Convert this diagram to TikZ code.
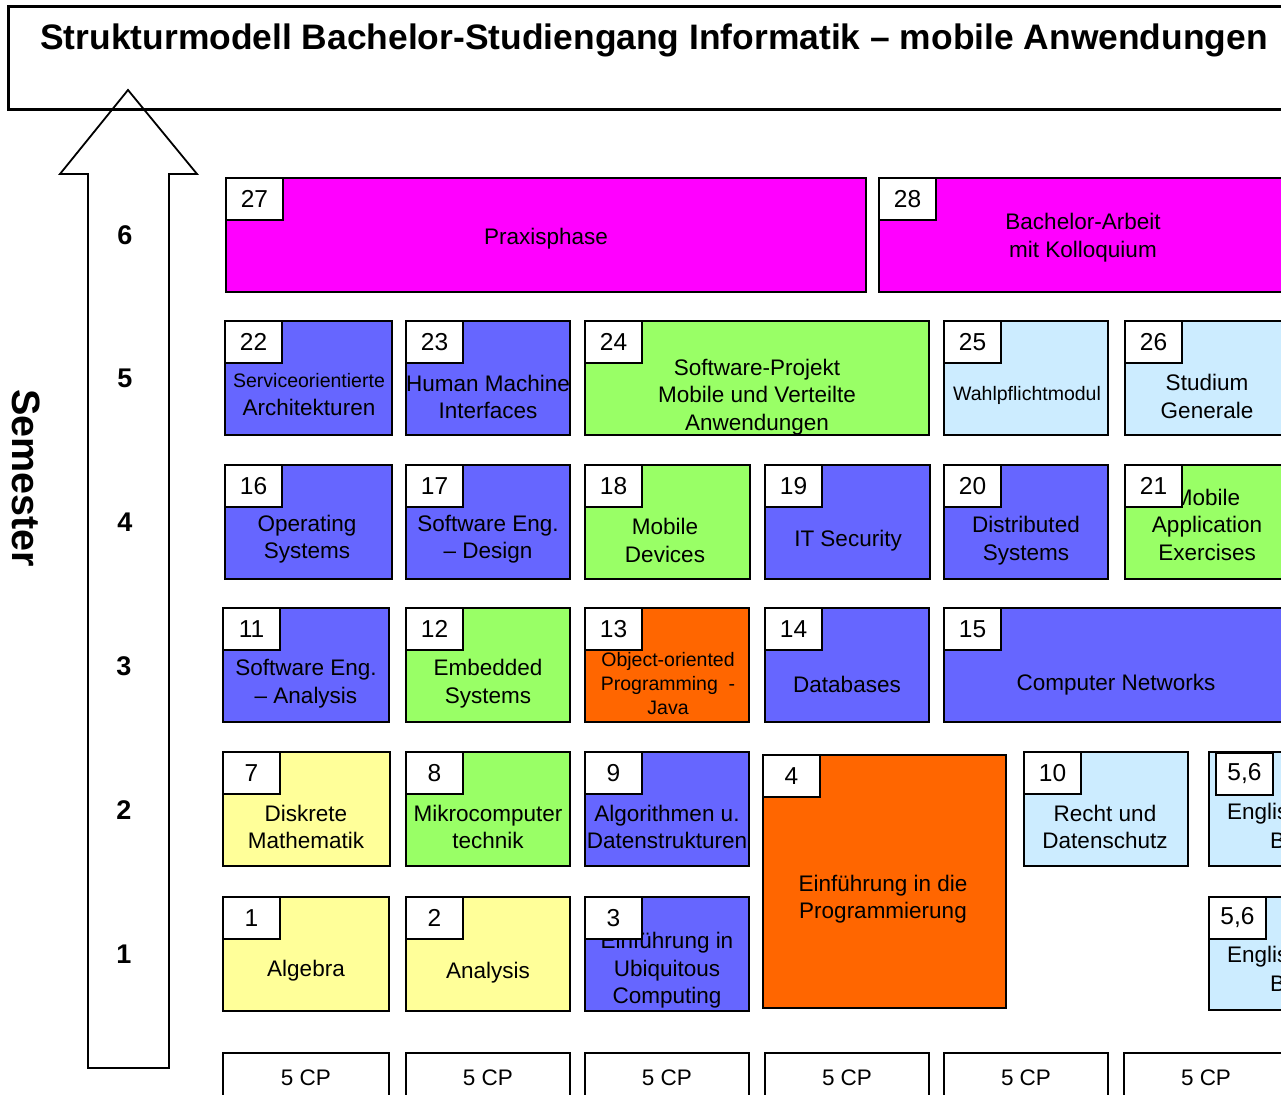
\documentclass[tikz,border=0pt]{standalone}
\usepackage{fontspec}
\setmainfont{Liberation Sans}
\usetikzlibrary{fit}
\definecolor{mag}{HTML}{FF00FF}
\definecolor{blu}{HTML}{6666FF}
\definecolor{grn}{HTML}{99FF66}
\definecolor{lbl}{HTML}{CCECFF}
\definecolor{yel}{HTML}{FFFF99}
\definecolor{org}{HTML}{FF6600}
\tikzset{
  modbox/.style={draw=black, line width=1.8pt, inner sep=0pt, outer sep=0pt},
  numbox/.style={draw=black, line width=1.8pt, fill=white, anchor=north west,
    minimum width=57pt, minimum height=42pt, inner sep=0pt, outer sep=0pt,
    font=\fontsize{24.5}{29}\selectfont},
  txt/.style={align=center, inner sep=0pt, yshift=-2.5pt, font=\fontsize{22.5}{27.5}\selectfont},
  smalltxt/.style={align=center, inner sep=0pt, yshift=-2pt, font=\fontsize{19.5}{24}\selectfont},
  semnum/.style={inner sep=0pt, font=\bfseries\fontsize{27}{32}\selectfont},
}
\begin{document}
\begin{tikzpicture}[x=1pt,y=-1pt]
\useasboundingbox (0,0) rectangle (1281,1094);
\clip (0,0) rectangle (1281,1094);
\fill[white] (0,0) rectangle (1281,1094);

% title
\node[draw=black, line width=3pt, inner sep=0pt, fit={(8,7)(1330,110)}] (tbox) {};
\node[anchor=base, inner sep=0pt, font=\bfseries\fontsize{35.4}{42}\selectfont] (title) at (654,50)
  {Strukturmodell Bachelor-Studiengang Informatik -- mobile Anwendungen};

% arrow
\draw[line width=1.8pt, line join=miter] (128,90) -- (197,174) -- (169,174) -- (169,1068)
  -- (88,1068) -- (88,174) -- (60,174) -- cycle;
\node[rotate=-90, inner sep=0pt, font=\bfseries\fontsize{39.5}{46}\selectfont] (sem) at (26,478) {Semester};
\node[semnum] (s6) at (125,235) {6};
\node[semnum] (s5) at (125,378) {5};
\node[semnum] (s4) at (125,522) {4};
\node[semnum] (s3) at (124,666) {3};
\node[semnum] (s2) at (124,810) {2};
\node[semnum] (s1) at (124,954) {1};

% row 6
\node[modbox, fill=mag, fit={(226,178)(866,292)}] (m27) {};
\node[modbox, fill=mag, fit={(879,178)(1340,292)}] (m28) {};
% row 5
\node[modbox, fill=blu, fit={(225,321)(392,435)}] (m22) {};
\node[modbox, fill=blu, fit={(406,321)(570,435)}] (m23) {};
\node[modbox, fill=grn, fit={(585,321)(929,435)}] (m24) {};
\node[modbox, fill=lbl, fit={(944,321)(1108,435)}] (m25) {};
\node[modbox, fill=lbl, fit={(1125,321)(1340,435)}] (m26) {};
% row 4
\node[modbox, fill=blu, fit={(225,465)(392,579)}] (m16) {};
\node[modbox, fill=blu, fit={(406,465)(570,579)}] (m17) {};
\node[modbox, fill=grn, fit={(585,465)(750,579)}] (m18) {};
\node[modbox, fill=blu, fit={(765,465)(930,579)}] (m19) {};
\node[modbox, fill=blu, fit={(944,465)(1108,579)}] (m20) {};
\node[modbox, fill=grn, fit={(1125,465)(1340,579)}] (m21) {};
% row 3
\node[modbox, fill=blu, fit={(223,608)(389,722)}] (m11) {};
\node[modbox, fill=grn, fit={(406,608)(570,722)}] (m12) {};
\node[modbox, fill=org, fit={(585,608)(749,722)}] (m13) {};
\node[modbox, fill=blu, fit={(765,608)(929,722)}] (m14) {};
\node[modbox, fill=blu, fit={(944,608)(1340,722)}] (m15) {};
% row 2
\node[modbox, fill=yel, fit={(223,752)(390,866)}] (m7) {};
\node[modbox, fill=grn, fit={(406,752)(570,866)}] (m8) {};
\node[modbox, fill=blu, fit={(585,752)(749,866)}] (m9) {};
\node[modbox, fill=org, fit={(763,755)(1006,1008)}] (m4) {};
\node[modbox, fill=lbl, fit={(1024,752)(1188,866)}] (m10) {};
\node[modbox, fill=lbl, fit={(1209,752)(1375,866)}] (m56a) {};
% row 1
\node[modbox, fill=yel, fit={(223,897)(389,1011)}] (m1) {};
\node[modbox, fill=yel, fit={(406,897)(570,1011)}] (m2) {};
\node[modbox, fill=blu, fit={(585,897)(749,1011)}] (m3) {};
\node[modbox, fill=lbl, fit={(1209,897)(1375,1010)}] (m56b) {};
% CP row
\node[modbox, fit={(223,1053)(389,1130)}] (cp1) {};
\node[modbox, fit={(406,1053)(570,1130)}] (cp2) {};
\node[modbox, fit={(585,1053)(749,1130)}] (cp3) {};
\node[modbox, fit={(765,1053)(929,1130)}] (cp4) {};
\node[modbox, fit={(944,1053)(1108,1130)}] (cp5) {};
\node[modbox, fit={(1124,1053)(1340,1130)}] (cp6) {};
\node[txt] (tcp1) at (306,1075) {5 CP};
\node[txt] (tcp2) at (488,1075) {5 CP};
\node[txt] (tcp3) at (667,1075) {5 CP};
\node[txt] (tcp4) at (847,1075) {5 CP};
\node[txt] (tcp5) at (1026,1075) {5 CP};
\node[txt] (tcp6) at (1206,1075) {5 CP};

% texts
\node[txt] (t27) at (546,236) {Praxisphase};
\node[txt] (t28) at (1083,235) {Bachelor-Arbeit\\mit Kolloquium};
\node[smalltxt] (t22a) at (309,379) {Serviceorientierte};
\node[txt] (t22b) at (309,405) {Architekturen};
\node[txt] (t23) at (488,394.5) {Human Machine\\Interfaces};
\node[txt] (t24) at (757,394.5) {Software-Projekt\\Mobile und Verteilte\\Anwendungen};
\node[smalltxt] (t25) at (1027,393) {Wahlpflichtmodul};
\node[txt] (t26) at (1207,394) {Studium\\Generale};
\node[txt] (t16) at (307,536.5) {Operating\\Systems};
\node[txt] (t17) at (488,536.5) {Software Eng.\\-- Design};
\node[txt] (t18) at (665,538) {Mobile\\Devices};
\node[txt] (t19) at (848,538) {IT Security};
\node[txt] (t20) at (1026,538) {Distributed\\Systems};
\node[txt] (t21) at (1207,522) {Mobile\\Application\\Exercises};
\node[txt] (t11) at (306,681) {Software Eng.\\-- Analysis};
\node[txt] (t12) at (488,681) {Embedded\\Systems};
\node[smalltxt] (t13) at (668,682) {Object-oriented\\Programming\ \ -\\Java};
\node[txt] (t14) at (847,682) {Databases};
\node[txt] (t15) at (1116,682) {Computer Networks};
\node[txt] (t7) at (306,824.5) {Diskrete\\Mathematik};
\node[txt] (t8) at (488,824.5) {Mikrocomputer\\technik};
\node[txt] (t9) at (667,824.5) {Algorithmen u.\\Datenstrukturen};
\node[txt] (t4) at (883,896.5) {Einführung in die\\Programmierung};
\node[txt] (t10) at (1105,824.5) {Recht und\\Datenschutz};
\node[txt, anchor=west] (t56a1) at (1227,811) {Englis};
\node[txt, anchor=west] (t56a2) at (1270,838) {B};
\node[txt] (t1) at (306,968) {Algebra};
\node[txt] (t2) at (488,970) {Analysis};
\node[txt] (t3) at (667,968) {Einführung in\\Ubiquitous\\Computing};
\node[txt, anchor=west] (t56b1) at (1227,954) {Englis};
\node[txt, anchor=west] (t56b2) at (1270,981) {B};

% number boxes
\node[numbox] (n27) at (m27.north west) {27};
\node[numbox] (n28) at (m28.north west) {28};
\node[numbox] (n22) at (m22.north west) {22};
\node[numbox] (n23) at (m23.north west) {23};
\node[numbox] (n24) at (m24.north west) {24};
\node[numbox] (n25) at (m25.north west) {25};
\node[numbox] (n26) at (m26.north west) {26};
\node[numbox] (n16) at (m16.north west) {16};
\node[numbox] (n17) at (m17.north west) {17};
\node[numbox] (n18) at (m18.north west) {18};
\node[numbox] (n19) at (m19.north west) {19};
\node[numbox] (n20) at (m20.north west) {20};
\node[numbox] (n21) at (m21.north west) {21};
\node[numbox] (n11) at (m11.north west) {11};
\node[numbox] (n12) at (m12.north west) {12};
\node[numbox] (n13) at (m13.north west) {13};
\node[numbox] (n14) at (m14.north west) {14};
\node[numbox] (n15) at (m15.north west) {15};
\node[numbox] (n7) at (m7.north west) {7};
\node[numbox] (n8) at (m8.north west) {8};
\node[numbox] (n9) at (m9.north west) {9};
\node[numbox] (n4) at (m4.north west) {4};
\node[numbox] (n10) at (m10.north west) {10};
\node[numbox] (n56a) at (1216,753) {5,6};
\node[numbox] (n1) at (m1.north west) {1};
\node[numbox] (n2) at (m2.north west) {2};
\node[numbox] (n3) at (m3.north west) {3};
\node[numbox] (n56b) at (m56b.north west) {5,6};
\end{tikzpicture}
\end{document}
